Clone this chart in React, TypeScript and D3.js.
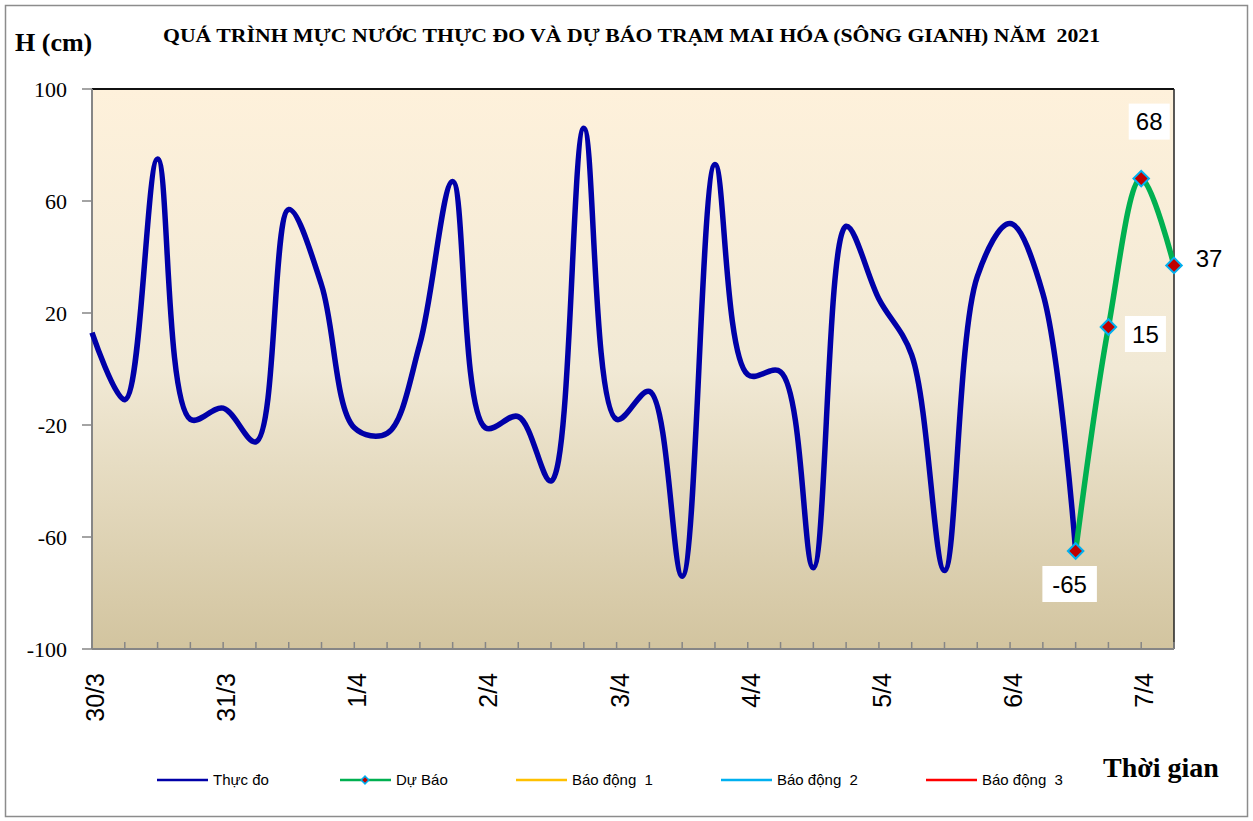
import React from "react";
import * as d3 from "d3";

// tick labels, one per day (4 readings a day)
const dayLabels = ["30/3", "31/3", "1/4", "2/4", "3/4", "4/4", "5/4", "6/4", "7/4"];
const yTicks = [-100, -60, -20, 20, 60, 100];

// observed water level (cm), every 6 hours from 30/3
const observed = [
  13, -11, 75, -18, -14, -26, 57, 30, -21, -23, 9, 67, -21, -17, -40, 86,
  -18, -8, -74, 73, -2, -1, -71, 51, 25, 5, -72, 33, 52, 27, -65,
];
// forecast starts at the last observed reading
const forecastStart = 30;
const forecast = [-65, 15, 68, 37];

const legendItems = [
  { name: "Thực đo", color: "#0000A8", marker: false },
  { name: "Dự Báo", color: "#00B050", marker: true },
  { name: "Báo động  1", color: "#FFC000", marker: false },
  { name: "Báo động  2", color: "#00B0F0", marker: false },
  { name: "Báo động  3", color: "#FF0000", marker: false },
];

const W = 1253;
const H = 821;
const margin = { top: 89, right: 79, bottom: 172, left: 92 };
const innerW = W - margin.left - margin.right;
const innerH = H - margin.top - margin.bottom;
const serif = "'Liberation Serif', 'Times New Roman', serif";
const sans = "'Liberation Sans', Arial, sans-serif";

export default function App() {
  const nPoints = forecastStart + forecast.length;
  const x = d3.scaleLinear().domain([0, nPoints - 1]).range([0, innerW]);
  const y = d3.scaleLinear().domain([-100, 100]).range([innerH, 0]);

  // smoothed lines, close to the spreadsheet "smoothed line" look
  const line = d3
    .line<number>()
    .x((d, i) => x(i))
    .y((d) => y(d))
    .curve(d3.curveCatmullRom.alpha(0.5));

  const fLine = d3
    .line<number>()
    .x((d, i) => x(i + forecastStart))
    .y((d) => y(d))
    .curve(d3.curveCatmullRom.alpha(0.5));

  const diamond = d3.symbol().type(d3.symbolSquare).size(120)();

  // data label placement relative to each forecast point
  const labelOffsets = [
    { dx: -6, dy: 33 },
    { dx: 37, dy: 7 },
    { dx: 8, dy: -57 },
    { dx: 35, dy: -7 },
  ];

  const legendX = [157, 340, 516, 721, 926];

  return (
    <svg width={W} height={H} style={{ position: "absolute", left: 0, top: 0, background: "#fff" }}>
      <defs>
        <linearGradient id="bg" x1="0" y1="0" x2="0" y2="1">
          <stop offset="0%" stopColor="#FEF1DB" />
          <stop offset="50%" stopColor="#F1E9D5" />
          <stop offset="100%" stopColor="#D2C49F" />
        </linearGradient>
      </defs>
      <rect x={5.5} y={5.5} width={1242} height={811} fill="#fff" stroke="#8c8c8c" strokeWidth={1.5} />

      <text x={15} y={51} fontFamily={serif} fontWeight="bold" fontSize={26}>H (cm)</text>
      <text x={163} y={42} fontFamily={serif} fontWeight="bold" fontSize={19} textLength={937} lengthAdjust="spacingAndGlyphs" style={{ whiteSpace: "pre" }}>
        {"QUÁ TRÌNH MỰC NƯỚC THỰC ĐO VÀ DỰ BÁO TRẠM MAI HÓA (SÔNG GIANH) NĂM  2021"}
      </text>

      <g transform={`translate(${margin.left},${margin.top})`}>
        <rect width={innerW} height={innerH} fill="url(#bg)" />
        <line x1={0} x2={innerW} y1={0} y2={0} stroke="#111" strokeWidth={2} />
        <line x1={innerW} x2={innerW} y1={0} y2={innerH} stroke="#222" strokeWidth={1.5} />

        {/* y axis */}
        <line x1={0} x2={0} y1={0} y2={innerH} stroke="#868686" strokeWidth={2} />
        {yTicks.map((t) => (
          <g key={t} transform={`translate(0,${y(t)})`}>
            <line x1={-10} x2={0} stroke="#868686" strokeWidth={1.5} />
            <text x={-25} dy="0.35em" textAnchor="end" fontFamily={serif} fontSize={22}>{t}</text>
          </g>
        ))}

        {/* x axis */}
        <line x1={0} x2={innerW} y1={innerH} y2={innerH} stroke="#868686" strokeWidth={2} />
        {d3.range(nPoints).map((i) => (
          <line key={i} x1={x(i)} x2={x(i)} y1={innerH} y2={innerH - 7} stroke="#868686" strokeWidth={1.5} />
        ))}
        {dayLabels.map((lab, k) => (
          <text
            key={lab}
            transform={`translate(${x(k * 4) + 3},${innerH + 24}) rotate(-90)`}
            dy="0.36em"
            textAnchor="end"
            fontFamily={sans}
            fontSize={25}
          >
            {lab}
          </text>
        ))}

        <path d={line(observed) || ""} fill="none" stroke="#0000A8" strokeWidth={5.5} strokeLinejoin="round" />
        <path d={fLine(forecast) || ""} fill="none" stroke="#00B050" strokeWidth={5.5} strokeLinejoin="round" />

        {forecast.map((v, i) => (
          <path
            key={i}
            d={diamond || ""}
            transform={`translate(${x(i + forecastStart)},${y(v)}) rotate(45)`}
            fill="#C00000"
            stroke="#00B0F0"
            strokeWidth={2}
          />
        ))}

        {forecast.map((v, i) => {
          const cx = x(i + forecastStart) + labelOffsets[i].dx;
          const cy = y(v) + labelOffsets[i].dy;
          const w = String(v).length * 13.5 + 14;
          return (
            <g key={"l" + i}>
              <rect x={cx - w / 2} y={cy - 18} width={w} height={36} fill="#fff" />
              <text x={cx} y={cy} dy="0.36em" textAnchor="middle" fontFamily={sans} fontSize={24}>{v}</text>
            </g>
          );
        })}
      </g>

      {/* legend */}
      {legendItems.map((it, i) => (
        <g key={it.name} transform={`translate(${legendX[i]},780)`}>
          <line x1={0} x2={51} stroke={it.color} strokeWidth={2.5} />
          {it.marker && (
            <path d={d3.symbol().type(d3.symbolSquare).size(30)() || ""} transform="translate(25,0) rotate(45)" fill="#C00000" stroke="#00B0F0" strokeWidth={1.5} />
          )}
          <text x={56} dy="0.36em" fontFamily={sans} fontSize={15} style={{ whiteSpace: "pre" }}>{it.name}</text>
        </g>
      ))}

      <text x={1103} y={777} fontFamily={serif} fontWeight="bold" fontSize={28}>Thời gian</text>
    </svg>
  );
}
